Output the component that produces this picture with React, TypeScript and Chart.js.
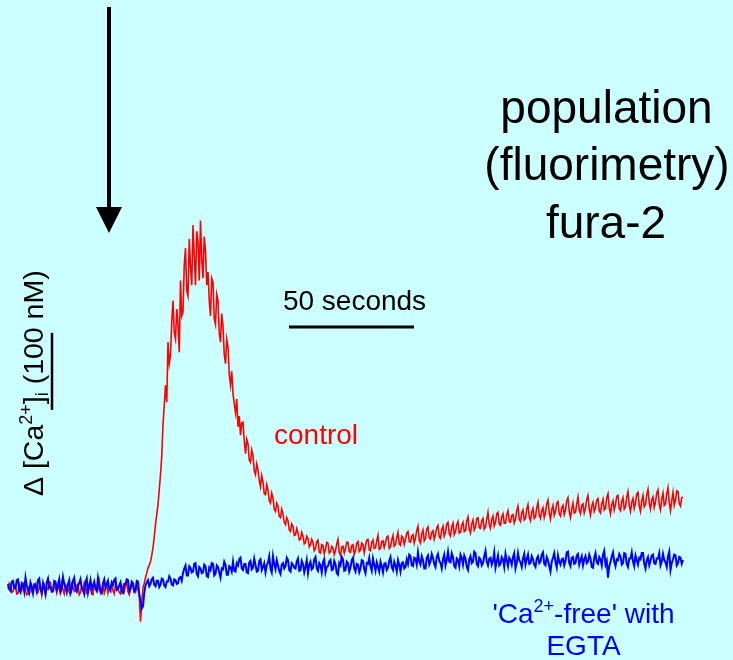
import React, { useEffect, useRef } from "react";
import { Chart, registerables } from "chart.js";

Chart.register(...registerables);

// ---- data ----
// one sample every 0.5 s, time starts at 0 s (0 .. 270 s)
const SAMPLE_INTERVAL_S = 0.5;

// control trace, Δ[Ca2+]i in nM (20 samples = 10 s per row)
const CONTROL_NM = [
  -2, 5, 3, -7, -6, 2, 1, -9, -8, 4, -1, -4, 4, 6, -5, -10, -9, 1, 0, -6,
  -4, 3, 5, -8, -7, 0, -2, -11, 2, 4, -10, -1, -3, 7, 6, -5, -6, 2, -1, -8,
  1, -3, -8, 5, -4, -9, 3, 0, -2, -7, -9, 4, 0, -6, -5, 2, 4, -10, -7, 1,
  -3, 6, 2, -8, -6, 1, -1, -9, -10, 3, 3, -5, -4, 7, -7, -2, 1, -8, -2, 4,
  -8, -1, 0, 5, -5, -9, 4, 1, -3, -7, -9, 2, -1, -6, 2, 5, -6, -10, -4, 3,
  1, -5, -7, 2, -3, -12, -45, -20, -1, 5, 12, 18, 25, 28, 33, 41, 51, 65, 81, 94,
  107, 126, 146, 170, 211, 236, 262, 240, 318, 290, 301, 345, 372, 330, 322, 361, 341, 305, 398, 352,
  357, 418, 440, 385, 378, 452, 416, 392, 470, 430, 392, 462, 448, 398, 476, 425, 401, 455, 437, 392,
  409, 372, 352, 401, 396, 348, 341, 380, 372, 330, 318, 355, 339, 302, 290, 322, 312, 276, 262, 280,
  251, 238, 226, 244, 208, 222, 197, 213, 214, 190, 173, 192, 186, 165, 162, 178, 171, 151, 146, 160,
  152, 138, 130, 145, 137, 121, 120, 133, 126, 112, 109, 122, 116, 101, 98, 109, 105, 92, 90, 101,
  95, 84, 81, 90, 86, 74, 72, 82, 79, 67, 68, 76, 70, 61, 62, 71, 66, 56, 58, 66,
  63, 52, 55, 62, 58, 47, 50, 59, 61, 45, 44, 55, 54, 43, 49, 58, 57, 44, 46, 53,
  51, 42, 47, 56, 62, 45, 41, 52, 53, 44, 50, 58, 58, 46, 45, 54, 55, 42, 47, 57,
  59, 46, 48, 57, 55, 44, 53, 61, 62, 48, 47, 58, 61, 50, 51, 60, 67, 49, 50, 59,
  60, 51, 57, 65, 66, 50, 52, 61, 67, 53, 55, 64, 71, 56, 54, 66, 64, 55, 62, 70,
  72, 59, 58, 66, 68, 57, 64, 73, 79, 61, 57, 69, 74, 60, 63, 75, 78, 64, 62, 71,
  73, 62, 68, 77, 80, 65, 63, 74, 79, 66, 71, 82, 84, 69, 66, 78, 83, 68, 72, 81,
  85, 70, 71, 80, 84, 72, 73, 86, 91, 75, 70, 82, 87, 74, 78, 89, 90, 77, 76, 86,
  89, 75, 78, 88, 97, 81, 76, 87, 92, 79, 84, 95, 97, 82, 80, 91, 95, 83, 83, 94,
  99, 85, 84, 93, 94, 83, 88, 99, 105, 88, 85, 96, 100, 87, 89, 101, 107, 91, 86, 97,
  102, 89, 91, 103, 110, 93, 89, 99, 103, 90, 96, 108, 113, 96, 88, 100, 106, 93, 98, 109,
  111, 95, 92, 103, 106, 94, 100, 112, 116, 98, 90, 101, 109, 96, 97, 108, 117, 100, 95, 106,
  108, 96, 102, 114, 119, 101, 93, 105, 110, 98, 103, 113, 115, 99, 96, 108, 114, 100, 102, 116,
  121, 103, 95, 107, 112, 100, 107, 118, 119, 102, 99, 111, 116, 101, 104, 117, 124, 106, 98, 110,
  115, 102, 109, 121, 123, 105, 98, 112, 119, 104, 107, 120, 127, 109, 101, 113, 117, 103, 110, 122,
  126, 107, 100, 114, 122, 106, 108, 121, 129, 110, 99, 112, 123, 106, 113, 125, 124, 108, 105, 116, 117,
];

// 'Ca2+-free' with EGTA trace, Δ[Ca2+]i in nM (20 samples = 10 s per row)
const EGTA_NM = [
  4, -3, -5, 7, 8, -1, -2, 9, 10, -4, -7, 5, 3, -6, 12, 2, -4, -8, 6, 1,
  -8, 3, 2, -5, 9, 11, -3, -7, 5, -2, -9, 6, 11, -1, 0, -6, -5, 8, 7, -3,
  3, 10, -6, -2, 13, 4, -1, -7, 4, 9, -8, -3, 8, 12, -3, -6, 1, 5, 10, -2,
  -4, -9, 6, 11, -7, 2, 9, -4, 2, 7, -2, -5, 12, 3, -6, -8, 5, 10, -1, 3,
  8, -2, -5, 6, 3, 9, 11, -4, -3, 2, 6, -7, -8, 4, 4, 10, 9, -5, -2, 7,
  5, -6, -4, 8, 7, -9, -17, -28, -25, -8, 2, 6, 9, 1, 4, 10, 12, 3, 1, 8,
  8, 0, 3, 11, 10, 2, 0, 7, 7, 14, 11, 3, 2, 10, 9, 4, 5, 12, 13, 8,
  18, 24, 28, 15, 15, 27, 25, 19, 20, 30, 31, 17, 14, 26, 24, 18, 19, 29, 27, 14,
  13, 25, 22, 31, 30, 15, 17, 28, 26, 19, 12, 24, 23, 33, 29, 16, 16, 27, 25, 20,
  33, 21, 20, 31, 28, 36, 38, 24, 22, 30, 30, 19, 18, 32, 34, 23, 25, 37, 29, 20,
  21, 34, 36, 22, 26, 31, 19, 28, 32, 40, 24, 19, 40, 30, 23, 35, 28, 21, 17, 29,
  31, 24, 27, 38, 35, 22, 20, 31, 29, 25, 24, 33, 37, 21, 22, 34, 30, 19, 26, 35,
  18, 29, 33, 23, 25, 36, 39, 24, 21, 31, 28, 19, 32, 36, 19, 26, 27, 33, 35, 22,
  23, 34, 30, 18, 16, 31, 28, 39, 36, 21, 22, 33, 31, 20, 25, 35, 38, 24, 20, 30,
  29, 19, 24, 35, 34, 23, 18, 31, 30, 38, 27, 21, 37, 29, 21, 32, 26, 20, 33, 27,
  19, 30, 31, 22, 25, 34, 39, 26, 22, 33, 28, 20, 35, 29, 20, 31, 32, 24, 26, 36,
  30, 42, 40, 28, 27, 38, 37, 29, 45, 33, 29, 40, 35, 24, 24, 38, 41, 29, 33, 43,
  38, 30, 26, 39, 43, 34, 31, 24, 36, 42, 28, 35, 46, 33, 32, 44, 39, 27, 25, 37,
  35, 27, 42, 38, 29, 41, 37, 26, 22, 36, 40, 31, 33, 46, 44, 30, 27, 38, 36, 28,
  31, 40, 47, 33, 28, 37, 38, 29, 34, 45, 25, 33, 41, 28, 30, 39, 36, 26, 43, 35,
  27, 38, 35, 29, 39, 44, 24, 31, 44, 35, 32, 26, 37, 43, 29, 36, 42, 30, 31, 40,
  36, 29, 26, 37, 40, 31, 33, 42, 45, 30, 28, 39, 35, 27, 20, 33, 38, 44, 32, 25,
  41, 33, 29, 36, 37, 28, 34, 45, 46, 31, 27, 38, 39, 30, 31, 41, 43, 29, 35, 40,
  28, 36, 40, 31, 33, 42, 37, 26, 25, 38, 44, 32, 30, 39, 36, 28, 42, 47, 29, 34,
  12, 27, 32, 40, 45, 33, 27, 36, 35, 43, 40, 29, 31, 44, 43, 30, 26, 37, 37, 45,
  33, 27, 41, 35, 29, 38, 36, 44, 44, 30, 24, 35, 39, 28, 34, 41, 42, 31, 30, 37,
  37, 44, 28, 33, 43, 35, 32, 26, 40, 46, 22, 31, 36, 42, 41, 28, 31, 39, 38, 30, 35,
];

const SCALE_BAR_SECONDS = 50;
const SCALE_BAR_NM = 100;
const TITLE_LINES = ["population", "(fluorimetry)", "fura-2"];
const CONTROL_LABEL = "control";
const EGTA_LABEL_LINE2 = "EGTA";

// ---- layout ----
const W = 733;
const H = 660;
const X_MIN = -3.2;
const X_MAX = 290;
const Y_MIN = -94.8;
const Y_MAX = 762.3;
const FONT = '"Liberation Sans", Arial, Helvetica, sans-serif';

function setFont(ctx: CanvasRenderingContext2D, size: number) {
  ctx.font = `${size}px ${FONT}`;
}

type Piece = { t: string; size: number; dy: number };

function drawPieces(
  ctx: CanvasRenderingContext2D,
  pieces: Piece[],
  x: number,
  y: number,
  align: "left" | "center"
) {
  let total = 0;
  for (const p of pieces) {
    setFont(ctx, p.size);
    total += ctx.measureText(p.t).width;
  }
  let cx = align === "center" ? x - total / 2 : x;
  ctx.textAlign = "left";
  ctx.textBaseline = "alphabetic";
  for (const p of pieces) {
    setFont(ctx, p.size);
    ctx.fillText(p.t, cx, y + p.dy);
    cx += ctx.measureText(p.t).width;
  }
}

const annotations = {
  id: "annotations",
  afterDatasetsDraw(chart: any) {
    const ctx: CanvasRenderingContext2D = chart.ctx;
    const xs = chart.scales.x;
    const ys = chart.scales.y;
    ctx.save();

    // stimulus arrow
    ctx.fillStyle = "#000";
    ctx.strokeStyle = "#000";
    ctx.lineWidth = 4;
    ctx.beginPath();
    ctx.moveTo(109, 7);
    ctx.lineTo(109, 210);
    ctx.stroke();
    ctx.beginPath();
    ctx.moveTo(96, 207);
    ctx.lineTo(122, 207);
    ctx.lineTo(109, 233);
    ctx.closePath();
    ctx.fill();

    // time scale bar (50 s)
    const tb0 = 112.4;
    ctx.lineWidth = 3;
    ctx.beginPath();
    ctx.moveTo(xs.getPixelForValue(tb0), 327);
    ctx.lineTo(xs.getPixelForValue(tb0 + SCALE_BAR_SECONDS), 327);
    ctx.stroke();

    // concentration scale bar (100 nM)
    const cb0 = 230;
    ctx.lineWidth = 2.5;
    ctx.beginPath();
    ctx.moveTo(52, ys.getPixelForValue(cb0));
    ctx.lineTo(52, ys.getPixelForValue(cb0 + SCALE_BAR_NM));
    ctx.stroke();

    // texts
    ctx.fillStyle = "#000";
    ctx.textAlign = "center";
    ctx.textBaseline = "alphabetic";
    setFont(ctx, 46);
    ctx.fillText(TITLE_LINES[0], 606.5, 123);
    ctx.fillText(TITLE_LINES[1], 607, 180);
    ctx.fillText(TITLE_LINES[2], 606, 238);

    setFont(ctx, 28);
    ctx.textAlign = "center";
    ctx.fillText(`${SCALE_BAR_SECONDS} seconds`, 354.5, 310);

    ctx.fillStyle = "#ff0000";
    ctx.textAlign = "left";
    ctx.fillText(CONTROL_LABEL, 274, 444);

    ctx.fillStyle = "#0000ff";
    drawPieces(
      ctx,
      [
        { t: "'Ca", size: 28, dy: 0 },
        { t: "2+", size: 18, dy: -11 },
        { t: "-free' with", size: 28, dy: 0 },
      ],
      583.5,
      623,
      "center"
    );
    setFont(ctx, 28);
    ctx.textAlign = "center";
    ctx.fillText(EGTA_LABEL_LINE2, 583.5, 655);

    // rotated axis label
    ctx.fillStyle = "#000";
    ctx.save();
    ctx.translate(43, 496);
    ctx.rotate(-Math.PI / 2);
    drawPieces(
      ctx,
      [
        { t: "\u0394 [Ca", size: 28.5, dy: 0 },
        { t: "2+", size: 18, dy: -11 },
        { t: "]", size: 28.5, dy: 0 },
        { t: "i", size: 18, dy: 5 },
        { t: ` (${SCALE_BAR_NM} nM)`, size: 28.5, dy: 0 },
      ],
      0,
      0,
      "left"
    );
    ctx.restore();

    ctx.restore();
  },
};

export default function App() {
  const ref = useRef<HTMLCanvasElement | null>(null);

  useEffect(() => {
    if (!ref.current) return;
    const toPoints = (arr: number[]) =>
      arr.map((v, i) => ({ x: i * SAMPLE_INTERVAL_S, y: v }));

    const chart = new Chart(ref.current, {
      type: "line",
      data: {
        datasets: [
          {
            label: "'Ca2+-free' with EGTA",
            data: toPoints(EGTA_NM),
            borderColor: "#0000ff",
            borderWidth: 2,
            pointRadius: 0,
            tension: 0,
            fill: false,
            order: 0,
          },
          {
            label: "control",
            data: toPoints(CONTROL_NM),
            borderColor: "#ff0000",
            borderWidth: 1.6,
            pointRadius: 0,
            tension: 0,
            fill: false,
            order: 1,
          },
        ],
      },
      options: {
        animation: false,
        responsive: false,
        devicePixelRatio: 1,
        layout: { padding: 0 },
        plugins: {
          legend: { display: false },
          tooltip: { enabled: false },
        },
        scales: {
          x: { type: "linear", min: X_MIN, max: X_MAX, display: false },
          y: { type: "linear", min: Y_MIN, max: Y_MAX, display: false },
        },
      },
      plugins: [annotations],
    });
    return () => chart.destroy();
  }, []);

  return (
    <div
      style={{
        position: "fixed",
        left: 0,
        top: 0,
        width: W,
        height: H,
        background: "#ccffff",
      }}
    >
      <canvas ref={ref} width={W} height={H} style={{ display: "block" }} />
    </div>
  );
}
